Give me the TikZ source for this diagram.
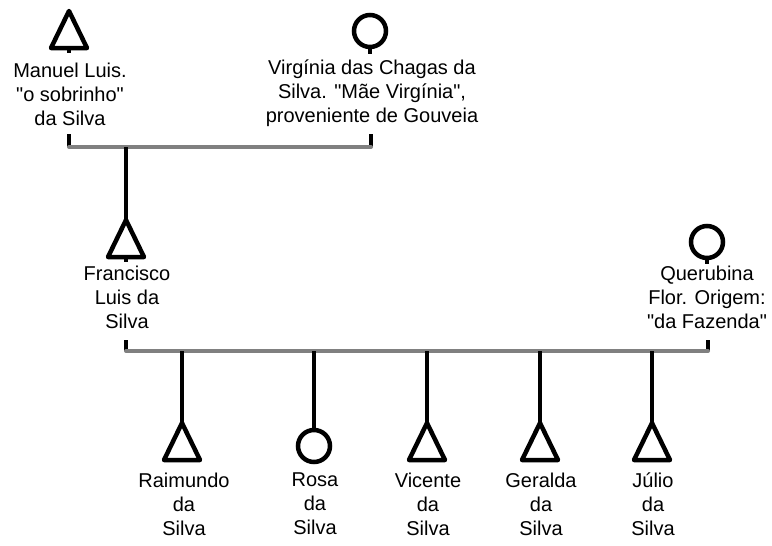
\documentclass[tikz,border=0pt]{standalone}
\usepackage{fontspec}
\setmainfont{Liberation Sans}[Ligatures=TeXOff]
\definecolor{spousegray}{RGB}{128,128,128}
\tikzset{
  sym/.style={draw=black, line width=4.5pt, line join=round},
  fem/.style={circle, draw=black, line width=4.5pt, minimum size=32pt, inner sep=0pt},
  conn/.style={draw=black, line width=4.5pt},
  spouse/.style={draw=spousegray, line width=4pt, line cap=round},
  lbl/.style={align=center, inner sep=0pt, anchor=north, font=\fontsize{20}{23.8}\selectfont}
}
\newcommand{\Male}[3]{%
  \coordinate (#1) at (#2,#3);
  \coordinate (#1-bot) at (#2,#3+37);
  \draw[sym] (#1) -- ++(18,37) -- ++(-36,0) -- cycle;
}
\begin{document}
\begin{tikzpicture}[x=1pt,y=-1pt]
\useasboundingbox (0,0) rectangle (772,546);

% generation 1
\Male{manuel}{69}{11}
\node[fem] (virginia) at (370,31) {};
\draw[conn] (manuel-bot) -- ++(0,5);
\draw[conn] (virginia.south) -- ++(0,5);
\node[lbl] (manuelT) at (70,63) {Manuel Luis.\\"o sobrinho"\\da Silva};
\node[lbl] (virginiaT) at (372,60) {Virgínia das Chagas da\\Silva. "Mãe Virgínia",\\proveniente de Gouveia};
\coordinate (m1a) at (69,134);
\coordinate (m1b) at (69,147);
\coordinate (m1c) at (371,134);
\coordinate (m1d) at (371,147);
\coordinate (m1x) at (126,147);
\draw[conn] (m1a) -- (m1b);
\draw[conn] (m1c) -- (m1d);
\draw[spouse] (m1b) -- (m1d);

% generation 2
\Male{francisco}{126}{220}
\draw[conn] (m1x) -- (francisco);
\draw[conn] (francisco-bot) -- ++(0,5);
\node[fem] (querubina) at (707,242) {};
\draw[conn] (querubina.south) -- ++(0,4);
\node[lbl] (franciscoT) at (127,266) {Francisco\\Luis da\\Silva};
\node[lbl] (querubinaT) at (707,266) {Querubina\\Flor. Origem:\\"da Fazenda"};
\coordinate (m2a) at (126,340);
\coordinate (m2b) at (126,351);
\coordinate (m2c) at (708,340);
\coordinate (m2d) at (708,351);
\draw[conn] (m2a) -- (m2b);
\draw[conn] (m2c) -- (m2d);
\draw[spouse] (m2b) -- (m2d);

% generation 3
\coordinate (c1) at (182,351);
\coordinate (c2) at (314,351);
\coordinate (c3) at (427,351);
\coordinate (c4) at (540,351);
\coordinate (c5) at (652,351);
\Male{raimundo}{182}{423}
\node[fem] (rosa) at (314,446) {};
\Male{vicente}{427}{423}
\Male{geralda}{540}{423}
\Male{julio}{652}{423}
\draw[conn] (c1) -- (raimundo);
\draw[conn] (c2) -- (rosa.north);
\draw[conn] (c3) -- (vicente);
\draw[conn] (c4) -- (geralda);
\draw[conn] (c5) -- (julio);
\node[lbl] (raimundoT) at (184,473) {Raimundo\\da\\Silva};
\node[lbl] (rosaT) at (315,473) {Rosa\\da\\Silva};
\node[lbl] (vicenteT) at (428,473) {Vicente\\da\\Silva};
\node[lbl] (geraldaT) at (541,473) {Geralda\\da\\Silva};
\node[lbl] (julioT) at (653,473) {Júlio\\da\\Silva};
\end{tikzpicture}
\end{document}
